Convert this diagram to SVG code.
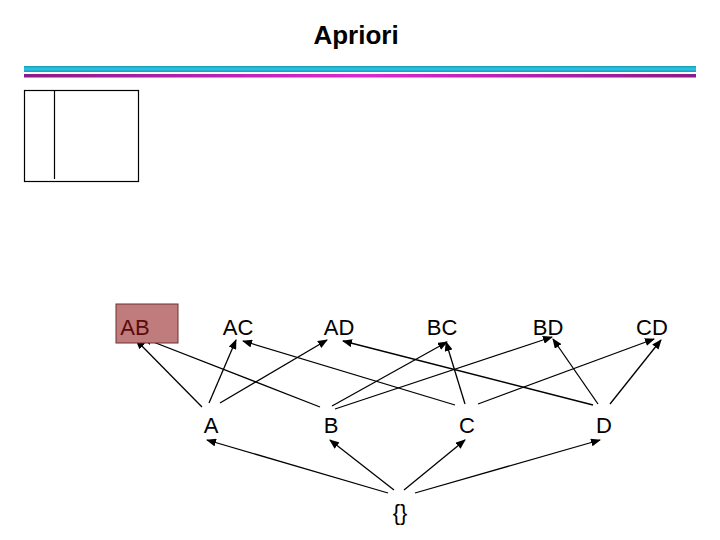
<svg xmlns="http://www.w3.org/2000/svg" width="720" height="540" viewBox="0 0 720 540">
<defs>
<linearGradient id="cy" x1="0" y1="0" x2="0" y2="1"><stop offset="0" stop-color="#1a9bb5"/><stop offset="0.5" stop-color="#2cc8e8"/><stop offset="1" stop-color="#1a9bb5"/></linearGradient>
<linearGradient id="mg" x1="0" y1="0" x2="1" y2="0"><stop offset="0" stop-color="#8a1a8a"/><stop offset="0.5" stop-color="#d82ad0"/><stop offset="1" stop-color="#8a1a8a"/></linearGradient>
<marker id="ar" markerWidth="10" markerHeight="8" refX="9" refY="4" orient="auto" markerUnits="userSpaceOnUse"><path d="M0,0 L10,4 L0,8 Z" fill="#000"/></marker>
</defs>
<style>
.t{font-family:"Liberation Sans",Arial,sans-serif;font-size:22px;text-anchor:middle;fill:#000}
#edges line{stroke:#000;stroke-width:1.3;marker-end:url(#ar)}
</style>
<rect width="720" height="540" fill="#fff"/>
<text x="356" y="44" class="t" style="font-size:26px;font-weight:bold">Apriori</text>
<rect x="24" y="66" width="672" height="6" fill="url(#cy)"/>
<rect x="24" y="74" width="672" height="3.5" fill="url(#mg)"/>
<rect x="24.5" y="90.5" width="114" height="91" fill="none" stroke="#000" stroke-width="1.2"/>
<line x1="54.5" y1="91" x2="54.5" y2="179" stroke="#000" stroke-width="1.2"/>
<g id="edges">
<line x1="202" y1="407" x2="136" y2="340"/>
<line x1="209" y1="403" x2="236" y2="340"/>
<line x1="220" y1="403" x2="327" y2="340"/>
<line x1="320" y1="407" x2="143" y2="338"/>
<line x1="332" y1="406" x2="447" y2="342"/>
<line x1="335" y1="409" x2="552" y2="337"/>
<line x1="455" y1="405" x2="243" y2="341"/>
<line x1="465" y1="404" x2="446" y2="342"/>
<line x1="478" y1="404" x2="654" y2="339"/>
<line x1="593" y1="405" x2="343" y2="341"/>
<line x1="598" y1="404" x2="553" y2="339"/>
<line x1="610" y1="404" x2="661" y2="340"/>
<line x1="388" y1="493" x2="207" y2="440"/>
<line x1="394" y1="490" x2="330" y2="440"/>
<line x1="404" y1="490" x2="465" y2="440"/>
<line x1="415" y1="493" x2="600" y2="440"/>
</g>
<g id="AB"><rect x="116" y="304" width="62" height="39" fill="#c07c7c" stroke="#6a3030" stroke-width="1"/><text x="135" y="335" class="t" style="fill:#5a0a0a">AB</text></g>
<g id="AC"><text x="238" y="335" class="t">AC</text></g>
<g id="AD"><text x="339" y="335" class="t">AD</text></g>
<g id="BC"><text x="442" y="335" class="t">BC</text></g>
<g id="BD"><text x="548" y="335" class="t">BD</text></g>
<g id="CD"><text x="652" y="335" class="t">CD</text></g>
<g id="A"><text x="211" y="433" class="t">A</text></g>
<g id="B"><text x="331" y="433" class="t">B</text></g>
<g id="C"><text x="467" y="433" class="t">C</text></g>
<g id="D"><text x="604" y="433" class="t">D</text></g>
<g id="empty"><text x="400" y="520" class="t">{}</text></g>
</svg>
